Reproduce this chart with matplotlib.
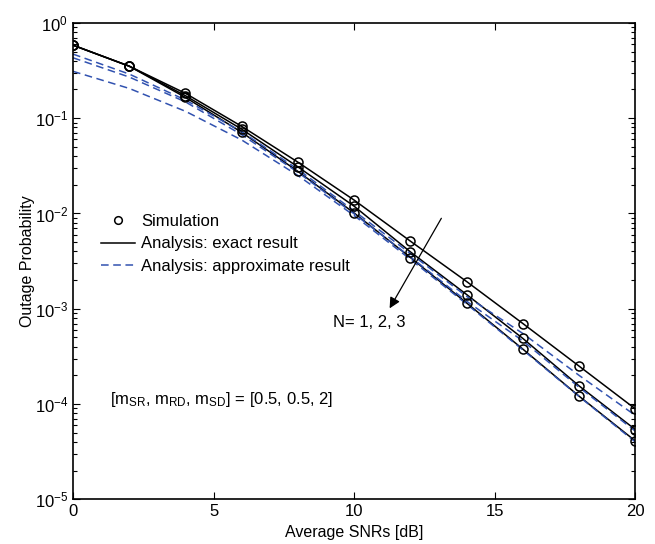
import numpy as np
import matplotlib
matplotlib.use('Agg')
import matplotlib.pyplot as plt
from matplotlib.lines import Line2D

plt.rcParams['font.family'] = ['Liberation Sans', 'DejaVu Sans']
plt.rcParams['mathtext.fontset'] = 'custom'
plt.rcParams['mathtext.rm'] = 'Liberation Sans'
plt.rcParams['mathtext.it'] = 'Liberation Sans'
plt.rcParams['mathtext.default'] = 'regular'

# Average SNR grid [dB]
snr = [0, 2, 4, 6, 8, 10, 12, 14, 16, 18, 20]

# Simulation results (N = 1, 2, 3)
sim_n1 = [0.583, 0.351, 0.182, 0.082, 0.0345, 0.0138, 0.00512, 0.00193, 0.00070, 0.00025, 8.9e-5]
sim_n2 = [0.583, 0.351, 0.172, 0.0766, 0.0308, 0.0119, 0.00395, 0.00141, 0.000488, 0.000155, 5.4e-5]
sim_n3 = [0.583, 0.351, 0.165, 0.071, 0.0276, 0.0101, 0.00345, 0.00115, 0.000377, 0.000121, 4.1e-5]

# Exact analysis (same points as simulation)
exact_n1 = [0.583, 0.351, 0.182, 0.082, 0.0345, 0.0138, 0.00512, 0.00193, 0.00070, 0.00025, 8.9e-5]
exact_n2 = [0.583, 0.351, 0.172, 0.0766, 0.0308, 0.0119, 0.00395, 0.00141, 0.000488, 0.000155, 5.4e-5]
exact_n3 = [0.583, 0.351, 0.165, 0.071, 0.0276, 0.0101, 0.00345, 0.00115, 0.000377, 0.000121, 4.1e-5]

# Approximate analysis
approx_n1 = [0.47, 0.29, 0.155, 0.072, 0.029, 0.0106, 0.0038, 0.00135, 0.00055, 0.0002, 7.6e-5]
approx_n2 = [0.43, 0.27, 0.148, 0.067, 0.027, 0.0099, 0.0035, 0.0012, 0.00046, 0.00015, 5.2e-5]
approx_n3 = [0.31, 0.205, 0.118, 0.059, 0.025, 0.0095, 0.0033, 0.00112, 0.00037, 0.00012, 4.0e-5]

blue = '#3152b0'
dash = (0, (5, 3))

fig = plt.figure(figsize=(6.55, 5.44), dpi=100)
ax = fig.add_axes([0.1115, 0.082, 0.8585, 0.876])

for ex in [exact_n1, exact_n2, exact_n3]:
    ax.semilogy(snr, ex, color='k', lw=1.1)
for ap in [approx_n1, approx_n2, approx_n3]:
    ax.semilogy(snr, ap, color=blue, lw=1.1, ls=dash)
for sm in [sim_n1, sim_n2, sim_n3]:
    ax.semilogy(snr, sm, ls='none', marker='o', ms=6.5, mfc='none',
                mec='k', mew=1.1)

ax.set_xlim(0, 20)
ax.set_ylim(1e-5, 1)
ax.set_xticks([0, 5, 10, 15, 20])
ax.tick_params(which='both', direction='in', top=True, right=True,
               labelsize=12, width=0.8)
ax.tick_params(which='major', length=5)
ax.tick_params(which='minor', length=3)
for s in ax.spines.values():
    s.set_linewidth(1.2)

ax.set_xlabel('Average SNRs [dB]', fontsize=11.5)
ax.set_ylabel('Outage Probability', fontsize=11.5)
ax.xaxis.set_label_coords(0.5, -0.054)
ax.yaxis.set_label_coords(-0.068, 0.5)

handles = [
    Line2D([], [], ls='none', marker='o', ms=5.5, mfc='none', mec='k', mew=1.1),
    Line2D([], [], color='k', lw=1.1),
    Line2D([], [], color=blue, lw=1.1, ls=dash),
]
labels = ['Simulation', 'Analysis: exact result', 'Analysis: approximate result']
ax.legend(handles, labels, loc='upper left', bbox_to_anchor=(0.05, 0.599),
          frameon=False, fontsize=12, handlelength=2.05, handletextpad=0.35,
          labelspacing=0.45, borderaxespad=0, borderpad=0)

ax.annotate('', xy=(11.26, 0.00101), xytext=(13.1, 0.0089),
            arrowprops=dict(arrowstyle='-|>', color='k', lw=0.9,
                            mutation_scale=16, shrinkA=0, shrinkB=0))
ax.text(9.25, 7.1e-4, 'N= 1, 2, 3', fontsize=12, ha='left', va='center')
ax.text(1.32, 1.12e-4, r'[m$_{SR}$, m$_{RD}$, m$_{SD}$] = [0.5, 0.5, 2]',
        fontsize=12, ha='left', va='center')

fig.savefig('out.png', dpi=100)
